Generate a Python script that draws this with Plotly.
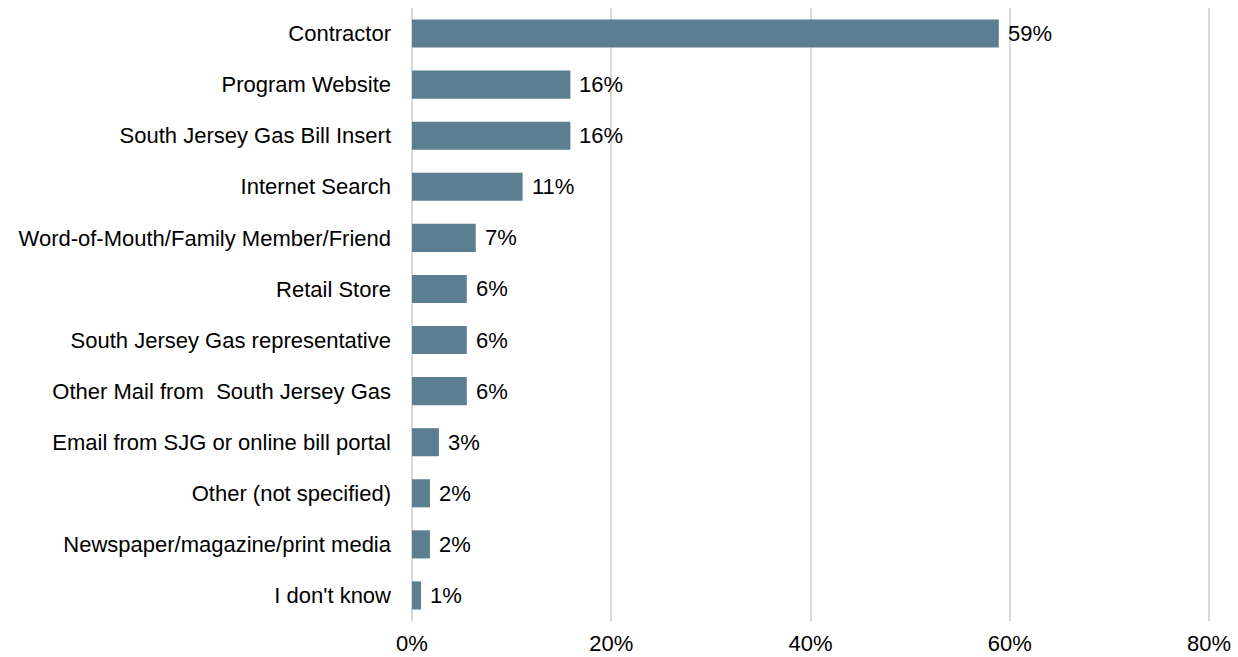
import plotly.graph_objects as go

categories = [
    "Contractor",
    "Program Website",
    "South Jersey Gas Bill Insert",
    "Internet Search",
    "Word-of-Mouth/Family Member/Friend",
    "Retail Store",
    "South Jersey Gas representative",
    "Other Mail from  South Jersey Gas",
    "Email from SJG or online bill portal",
    "Other (not specified)",
    "Newspaper/magazine/print media",
    "I don't know",
]
values = [58.9, 15.9, 15.9, 11.1, 6.4, 5.5, 5.5, 5.5, 2.7, 1.8, 1.8, 0.9]
labels = ["59%", "16%", "16%", "11%", "7%", "6%", "6%", "6%", "3%", "2%", "2%", "1%"]
tick_vals = [0, 20, 40, 60, 80]
tick_text = ["0%", "20%", "40%", "60%", "80%"]

FONT = "Liberation Sans, Arial, sans-serif"
FS = 22

fig = go.Figure(
    go.Bar(
        x=values,
        y=categories,
        orientation="h",
        marker=dict(color="#5B7E91", line=dict(width=0)),
        hoverinfo="skip",
    )
)

for v, c, t in zip(values, categories, labels):
    fig.add_annotation(
        x=v, y=c, text=t, showarrow=False, xanchor="left", yanchor="middle",
        xshift=7, font=dict(family=FONT, size=FS, color="#000000"),
    )

fig.update_layout(
    width=1238,
    height=657,
    margin=dict(l=412, r=27, t=8, b=36),
    plot_bgcolor="white",
    paper_bgcolor="white",
    bargap=0.45,
    showlegend=False,
    font=dict(family=FONT, size=FS, color="#000000"),
)
fig.update_xaxes(
    range=[0, 80.2],
    tickvals=tick_vals,
    ticktext=tick_text,
    showgrid=True,
    gridcolor="#D9D9D9",
    gridwidth=1.5,
    zeroline=True,
    zerolinecolor="#D9D9D9",
    zerolinewidth=1.5,
    showline=False,
    ticks="",
    ticklabelstandoff=7,
    automargin=False,
    tickfont=dict(family=FONT, size=FS, color="#000000"),
    fixedrange=True,
)
fig.update_yaxes(
    categoryorder="array",
    categoryarray=categories[::-1],
    showgrid=False,
    showline=False,
    ticks="",
    ticklabelstandoff=20,
    automargin=False,
    tickfont=dict(family=FONT, size=FS, color="#000000"),
    fixedrange=True,
)

fig.write_html("out.html")
